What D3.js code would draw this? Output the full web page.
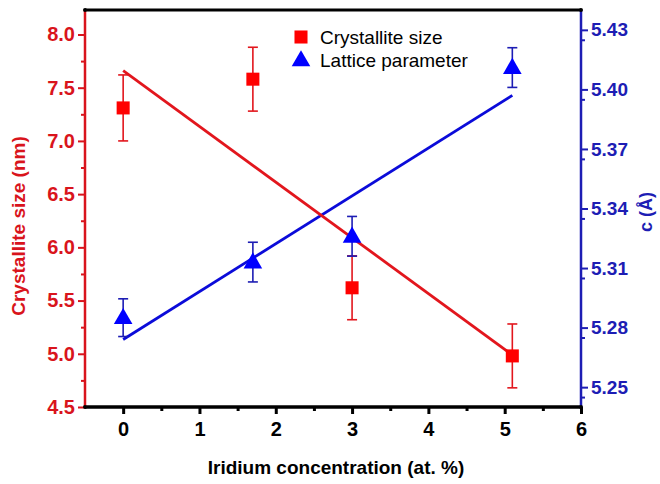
<!DOCTYPE html>
<html>
<head>
<meta charset="utf-8">
<script src="https://cdn.jsdelivr.net/npm/d3@7"></script>
<style>
  body { margin: 0; background: #fff; }
  svg text { font-family: "Liberation Sans", Arial, sans-serif; }
</style>
</head>
<body>
<div id="chart"></div>
<script>
// iridium concentration (at. %)
var conc = [0, 1.7, 3, 5.1];
// crystallite size (nm) and its error
var sizeVals = [7.31, 7.58, 5.62, 4.98];
var sizeErr = [0.31, 0.3, 0.3, 0.3];
// lattice parameter c (A) and its error
var latVals = [5.285, 5.313, 5.326, 5.411];
var latErr = [0.0095, 0.01, 0.01, 0.01];
// linear fits, end points
var fitX = [0, 5.1];
var sizeFit = [7.66, 4.99];
var latFit = [5.274, 5.397];
// tick labels
var xTicks = [0, 1, 2, 3, 4, 5, 6];
var leftTicks = ["4.5", "5.0", "5.5", "6.0", "6.5", "7.0", "7.5", "8.0"];
var rightTicks = ["5.25", "5.28", "5.31", "5.34", "5.37", "5.40", "5.43"];

var width = 660, height = 484;
var margin = {top: 10, right: 79, bottom: 77, left: 85};
var red = "#e2161d", redAxis = "#d9141c", blue = "#0b0bd9", blueAxis = "#1d1db4";

var svg = d3.select("#chart").append("svg")
  .attr("width", width).attr("height", height);

var x = d3.scaleLinear().domain([-0.5, 6]).range([margin.left, width - margin.right]);
var yL = d3.scaleLinear().domain([4.5, 8.23]).range([height - margin.bottom, margin.top]);
var yR = d3.scaleLinear().domain([5.24, 5.44]).range([height - margin.bottom, margin.top]);

var x0 = margin.left, x1 = width - margin.right, yTop = margin.top, yBot = height - margin.bottom;

// top frame
svg.append("line").attr("x1", x0).attr("x2", x1).attr("y1", yTop).attr("y2", yTop)
  .attr("stroke", "#000").attr("stroke-width", 3);

// bottom axis
var xAxis = svg.append("g").attr("transform", "translate(0," + yBot + ")");
xAxis.call(d3.axisBottom(x).tickValues(d3.range(0.5, 6, 1)).tickSize(4).tickFormat(""));
xAxis.call(function(g) {
  g.append("g").call(d3.axisBottom(x).tickValues(xTicks).tickSize(7).tickFormat(d3.format("d")));
});
xAxis.selectAll(".domain").remove();
xAxis.selectAll("line").attr("stroke", "#000").attr("stroke-width", 3);
xAxis.selectAll("text").attr("fill", "#000").attr("font-size", 20).attr("font-weight", "bold").attr("dy", "0.95em");
svg.append("line").attr("x1", x0).attr("x2", x1).attr("y1", yBot).attr("y2", yBot)
  .attr("stroke", "#000").attr("stroke-width", 3.5);

// left axis
var lAxis = svg.append("g").attr("transform", "translate(" + x0 + ",0)");
lAxis.call(d3.axisLeft(yL).tickValues(d3.range(4.75, 8.2, 0.5)).tickSize(4).tickFormat(""));
lAxis.append("g").call(d3.axisLeft(yL).tickValues(leftTicks.map(Number)).tickSize(7)
  .tickFormat(function(d, i) { return leftTicks[i]; }));
lAxis.selectAll(".domain").remove();
lAxis.selectAll("line").attr("stroke", redAxis).attr("stroke-width", 2);
lAxis.selectAll("text").attr("fill", redAxis).attr("font-size", 20).attr("font-weight", "bold").attr("x", -10);
svg.append("line").attr("x1", x0).attr("x2", x0).attr("y1", yTop).attr("y2", yBot)
  .attr("stroke", redAxis).attr("stroke-width", 2.5);

// right axis
var rAxis = svg.append("g").attr("transform", "translate(" + x1 + ",0)");
rAxis.call(d3.axisRight(yR).tickValues(d3.range(5.245, 5.44, 0.03)).tickSize(4).tickFormat(""));
rAxis.append("g").call(d3.axisRight(yR).tickValues(rightTicks.map(Number)).tickSize(7)
  .tickFormat(function(d, i) { return rightTicks[i]; }));
rAxis.selectAll(".domain").remove();
rAxis.selectAll("line").attr("stroke", blueAxis).attr("stroke-width", 2);
rAxis.selectAll("text").attr("fill", blueAxis).attr("font-size", 19).attr("font-weight", "bold").attr("x", 10);
svg.append("line").attr("x1", x1).attr("x2", x1).attr("y1", yTop).attr("y2", yBot)
  .attr("stroke", blueAxis).attr("stroke-width", 2.5);

// corner dots
[[x0, yTop], [x1, yTop], [x0, yBot], [x1, yBot]].forEach(function(p) {
  svg.append("circle").attr("cx", p[0]).attr("cy", p[1]).attr("r", 2).attr("fill", "#000");
});

// axis titles
svg.append("text").attr("x", (x0 + x1) / 2 + 3).attr("y", 474)
  .attr("text-anchor", "middle").attr("font-size", 19).attr("font-weight", "bold")
  .attr("fill", "#000").text("Iridium concentration (at. %)");
svg.append("text").attr("transform", "translate(25,226) rotate(-90)")
  .attr("text-anchor", "middle").attr("font-size", 19).attr("font-weight", "bold")
  .attr("fill", redAxis).text("Crystallite size (nm)");
svg.append("text").attr("transform", "translate(652,212) rotate(-90)")
  .attr("text-anchor", "middle").attr("font-size", 18).attr("font-weight", "bold")
  .attr("fill", blueAxis).text("c (Å)");

// fit lines
var fitLine = function(scale, vals) {
  return d3.line().x(function(d, i) { return x(fitX[i]); }).y(function(d, i) { return scale(vals[i]); })(vals);
};
svg.append("path").attr("d", fitLine(yR, latFit)).attr("fill", "none")
  .attr("stroke", blue).attr("stroke-width", 2.8);
svg.append("path").attr("d", fitLine(yL, sizeFit)).attr("fill", "none")
  .attr("stroke", red).attr("stroke-width", 2.8);

// error bars
function errorBars(vals, errs, scale, color) {
  var g = svg.append("g").attr("stroke", color).attr("stroke-width", 1.6);
  vals.forEach(function(v, i) {
    var cx = x(conc[i]), top = scale(v + errs[i]), bot = scale(v - errs[i]);
    g.append("line").attr("x1", cx).attr("x2", cx).attr("y1", top).attr("y2", bot);
    g.append("line").attr("x1", cx - 5).attr("x2", cx + 5).attr("y1", top).attr("y2", top);
    g.append("line").attr("x1", cx - 5).attr("x2", cx + 5).attr("y1", bot).attr("y2", bot);
  });
}
errorBars(sizeVals, sizeErr, yL, red);
errorBars(latVals, latErr, yR, blueAxis);

// markers
var square = d3.symbol().type(d3.symbolSquare).size(170);
var tri = d3.symbol().type(d3.symbolTriangle).size(150);
svg.selectAll(".sq").data(sizeVals).enter().append("path")
  .attr("class", "sq").attr("d", square)
  .attr("transform", function(d, i) { return "translate(" + x(conc[i]) + "," + yL(d) + ")"; })
  .attr("fill", "#f00");
svg.selectAll(".tri").data(latVals).enter().append("path")
  .attr("class", "tri").attr("d", tri)
  .attr("transform", function(d, i) { return "translate(" + x(conc[i]) + "," + (yR(d) + 1) + ")"; })
  .attr("fill", "#00f");

// legend
var leg = svg.append("g");
leg.append("path").attr("d", square).attr("transform", "translate(301,37)").attr("fill", "#f00");
leg.append("path").attr("d", tri).attr("transform", "translate(301,61)").attr("fill", "#00f");
leg.append("text").attr("x", 320).attr("y", 44).attr("font-size", 19).attr("fill", "#000").text("Crystallite size");
leg.append("text").attr("x", 320).attr("y", 67).attr("font-size", 19).attr("fill", "#000").text("Lattice parameter");
</script>
</body>
</html>
